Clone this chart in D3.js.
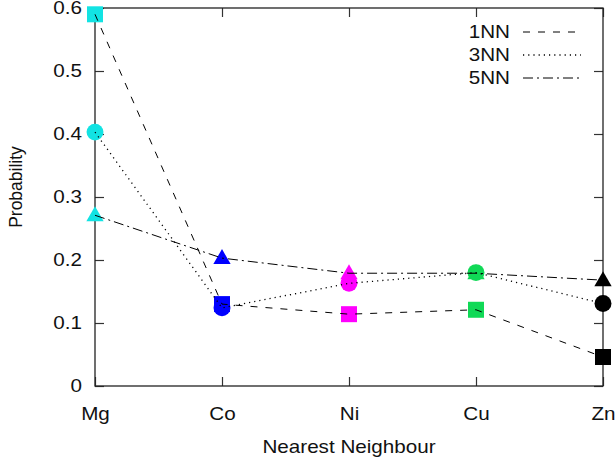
<!DOCTYPE html>
<html>
<head>
<meta charset="utf-8">
<script src="https://cdn.jsdelivr.net/npm/d3@7"></script>
<style>
  body { margin: 0; background: #fff; }
  text { font-family: "Liberation Sans", Arial, sans-serif; fill: #111; }
</style>
</head>
<body>
<div id="chart"></div>
<script>
var svgWidth = 616;
var svgHeight = 466;

var margin = { top: 8, right: 13, bottom: 80, left: 95 };
var width = svgWidth - margin.left - margin.right;
var height = svgHeight - margin.top - margin.bottom;

// data
var metals = ["Mg", "Co", "Ni", "Cu", "Zn"];
var metalColors = ["#12e3e3", "#0000ff", "#ff00ff", "#10d956", "#000000"];
var nn1 = [0.590, 0.130, 0.114, 0.121, 0.046];
var nn3 = [0.403, 0.124, 0.163, 0.180, 0.131];
var nn5 = [0.271, 0.203, 0.179, 0.179, 0.168];
var yTicks = [0, 0.1, 0.2, 0.3, 0.4, 0.5, 0.6];

var series = [
  { name: "1NN", values: nn1, marker: "square", dash: "7,8", width: 1 },
  { name: "3NN", values: nn3, marker: "circle", dash: "1.2,4", width: 1.3 },
  { name: "5NN", values: nn5, marker: "triangle", dash: "10,4,2,4", width: 1 }
];

var fontSize = "17.5px";
var stretch = 1.18; // text in the picture is a bit wider than plain Arial

var svg = d3.select("#chart").append("svg")
  .attr("width", svgWidth)
  .attr("height", svgHeight);

var chartGroup = svg.append("g")
  .attr("transform", `translate(${margin.left}, ${margin.top})`);

var xScale = d3.scalePoint().domain(metals).range([0, width]);
var yScale = d3.scaleLinear().domain([0, 0.6]).range([height, 0]);

// axes with inward ticks, mirrored
var tickLen = 9;
chartGroup.append("g")
  .attr("class", "x-axis")
  .attr("transform", `translate(0, ${height})`)
  .call(d3.axisBottom(xScale).tickSizeInner(-tickLen).tickSizeOuter(0).tickPadding(22))
  .call(g => g.select(".domain").remove());
chartGroup.append("g")
  .call(d3.axisTop(xScale).tickSizeInner(-tickLen).tickSizeOuter(0).tickFormat(""))
  .call(g => g.select(".domain").remove());
chartGroup.append("g")
  .attr("class", "y-axis")
  .call(d3.axisLeft(yScale).tickValues(yTicks).tickFormat(d3.format("~g"))
    .tickSizeInner(-tickLen).tickSizeOuter(0).tickPadding(13))
  .call(g => g.select(".domain").remove());
chartGroup.append("g")
  .attr("transform", `translate(${width}, 0)`)
  .call(d3.axisRight(yScale).tickValues(yTicks).tickFormat("")
    .tickSizeInner(-tickLen).tickSizeOuter(0))
  .call(g => g.select(".domain").remove());

chartGroup.selectAll(".tick line").attr("stroke", "#333").attr("stroke-width", 1.2);
chartGroup.selectAll(".tick text")
  .style("font-family", "'Liberation Sans', Arial, sans-serif")
  .style("font-size", fontSize)
  .attr("fill", "#111");

// widen tick labels around their anchor
chartGroup.selectAll(".x-axis .tick text").each(function() {
  var t = d3.select(this);
  var y = +t.attr("y");
  t.attr("y", 0).attr("transform", `translate(0, ${y}) scale(${stretch}, 1)`);
});
chartGroup.selectAll(".y-axis .tick text").each(function() {
  var t = d3.select(this);
  var x = +t.attr("x");
  t.attr("x", 0).attr("transform", `translate(${x}, 0) scale(${stretch}, 1)`);
});

chartGroup.append("rect")
  .attr("width", width)
  .attr("height", height)
  .attr("fill", "none")
  .attr("stroke", "#222")
  .attr("stroke-width", 1.3);

// markers first, lines drawn over them
var symbolTypes = { square: d3.symbolSquare, circle: d3.symbolCircle, triangle: d3.symbolTriangle };
var symbolSizes = { square: 256, circle: 225, triangle: 130 };

series.slice().reverse().forEach(function(s) {
  chartGroup.append("g").selectAll("path")
    .data(s.values)
    .enter()
    .append("path")
    .attr("d", d3.symbol().type(symbolTypes[s.marker]).size(symbolSizes[s.marker]))
    .attr("transform", (d, i) => `translate(${xScale(metals[i])}, ${yScale(d) + (s.marker === "triangle" ? 1 : 0)})`)
    .attr("fill", (d, i) => metalColors[i]);
});

var line = d3.line()
  .x((d, i) => xScale(metals[i]))
  .y(d => yScale(d));

series.forEach(function(s) {
  chartGroup.append("path")
    .datum(s.values)
    .attr("d", line)
    .attr("fill", "none")
    .attr("stroke", "#000")
    .attr("stroke-width", s.width)
    .attr("stroke-dasharray", s.dash);
});

// legend
var legend = svg.append("g");
series.forEach(function(s, i) {
  var y = 32 + i * 23;
  legend.append("text")
    .attr("transform", `translate(510, ${y}) scale(${stretch}, 1)`)
    .attr("dy", "0.35em")
    .attr("text-anchor", "end")
    .style("font-size", fontSize)
    .text(s.name);
  legend.append("line")
    .attr("x1", 523).attr("x2", 581)
    .attr("y1", y).attr("y2", y)
    .attr("stroke", "#000")
    .attr("stroke-width", s.width)
    .attr("stroke-dasharray", s.dash);
});

// axis titles
svg.append("text")
  .attr("transform", `translate(${margin.left + width / 2}, 453) scale(${stretch}, 1)`)
  .attr("text-anchor", "middle")
  .style("font-size", fontSize)
  .text("Nearest Neighbour");

svg.append("text")
  .attr("transform", "translate(22, 187) rotate(-90)")
  .attr("text-anchor", "middle")
  .style("font-size", fontSize)
  .text("Probability");
</script>
</body>
</html>
